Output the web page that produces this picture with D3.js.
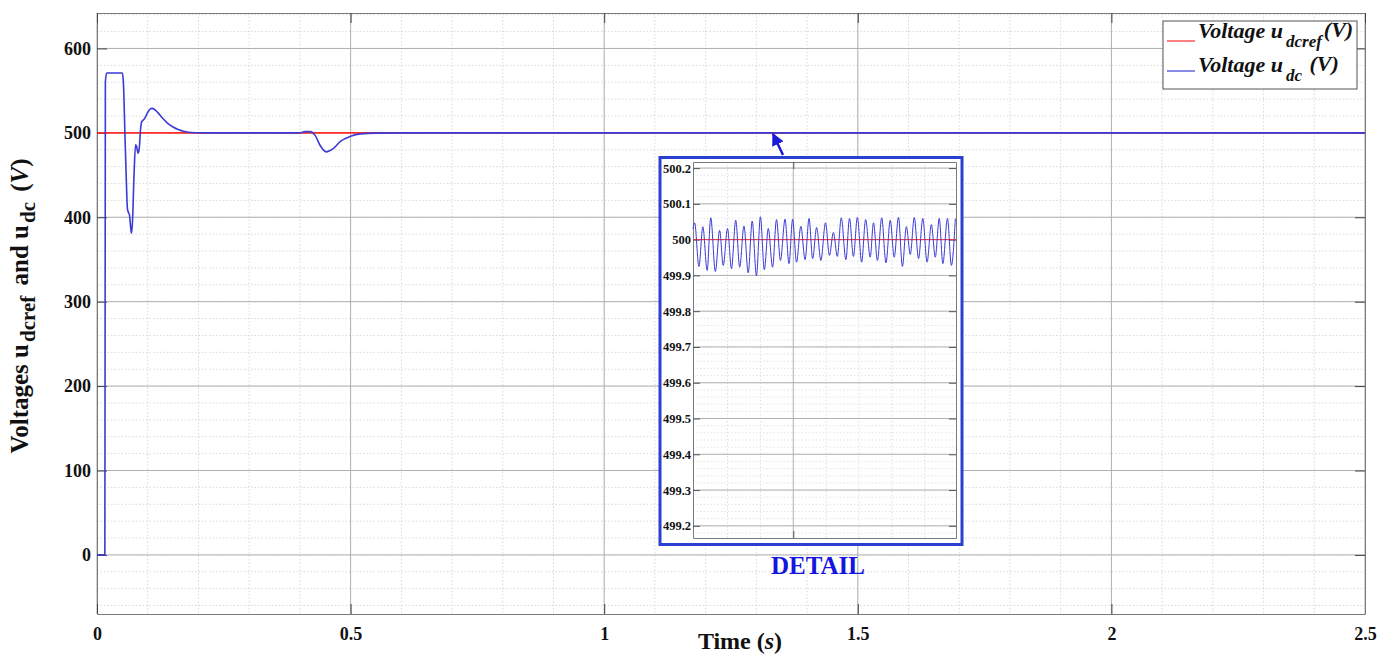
<!DOCTYPE html>
<html>
<head>
<meta charset="utf-8">
<script src="https://cdn.jsdelivr.net/npm/d3@7"></script>
<style>
  html, body { margin: 0; padding: 0; background: #fff; }
  svg { display: block; }
  text { font-family: "Liberation Serif", "Times New Roman", serif; }
</style>
</head>
<body>
<svg id="chart" width="1395" height="657"></svg>
<script>
// DC-link voltage response: reference and measured (V) over time (s)
const refTime = [0, 2.5];
const refVolt = [500, 500];

const udcTime = [0, 0.0155, 0.0165, 0.019, 0.050, 0.052, 0.055, 0.058, 0.060, 0.0625, 0.064, 0.066, 0.068,
  0.070, 0.073, 0.076, 0.078, 0.081, 0.083, 0.086, 0.088, 0.091, 0.094, 0.098, 0.103, 0.108, 0.113,
  0.120, 0.130, 0.140, 0.150, 0.160, 0.170, 0.180, 0.195, 0.22, 0.40, 0.41, 0.42, 0.43, 0.44, 0.452,
  0.465, 0.48, 0.50, 0.52, 0.55, 0.60, 2.5];
const udcVolt = [0, 0, 560, 571, 571, 560, 500, 440, 410, 405, 403, 390, 381,
  395, 450, 486, 484, 476, 480, 505, 513, 515, 517, 522, 527, 529, 528,
  524, 517, 511, 507, 504, 502, 500.8, 500.2, 500, 500, 501.5, 501.5, 497, 485, 477.5,
  481, 490, 496, 498.8, 499.7, 500, 500];

// Zoomed window of the steady state ripple (time in ms inside the window)
const detailTime = [-0.5, 0.0, 1.3, 2.5, 3.8, 4.9, 6.3, 7.6, 8.7, 10.0, 11.2, 12.5, 13.7, 15.0, 16.3, 17.5,
  18.8, 20.0, 21.2, 22.4, 23.7, 24.9, 26.1, 27.5, 28.7, 29.8, 31.0, 32.3, 33.6, 34.8, 35.9,
  37.1, 38.4, 39.8, 41.0, 42.2, 43.4, 44.6, 46.0, 47.1, 48.3, 49.5, 50.8, 52.0, 53.4, 54.4,
  55.6, 56.9, 58.2, 59.5, 60.7, 62.0, 63.2, 64.4, 65.6, 66.8, 68.1, 69.4, 70.7, 72.0, 73.2,
  74.4, 75.5, 76.9, 78.1, 79.3];
const detailVolt = [500.030, 500.047, 499.925, 500.036, 499.914, 500.061, 499.911, 500.026, 499.928, 500.031,
  499.919, 500.054, 499.923, 500.038, 499.907, 500.052, 499.899, 500.064, 499.916, 500.031, 499.923,
  500.056, 499.942, 500.057, 499.933, 500.057, 499.937, 500.037, 499.944, 500.059, 499.947,
  500.034, 499.942, 500.047, 499.956, 500.020, 499.953, 500.061, 499.944, 500.059, 499.953,
  500.062, 499.937, 500.056, 499.951, 500.047, 499.942, 500.061, 499.935, 500.054, 499.951,
  500.062, 499.925, 500.036, 499.959, 500.062, 499.947, 500.059, 499.937, 500.042, 499.951,
  500.059, 499.933, 500.059, 499.928, 500.059];

const xTicks = [0, 0.5, 1, 1.5, 2, 2.5];
const xTickLabels = ["0", "0.5", "1", "1.5", "2", "2.5"];
const yTicks = [0, 100, 200, 300, 400, 500, 600];
const detailYTicks = [499.2, 499.3, 499.4, 499.5, 499.6, 499.7, 499.8, 499.9, 500, 500.1, 500.2];
const detailYTickLabels = ["499.2", "499.3", "499.4", "499.5", "499.6", "499.7", "499.8", "499.9", "500", "500.1", "500.2"];

const RED = "#ff2a2a", BLUE = "#3a3ad6", FRAME = "#2b3fd0";
const SERIF = "'Liberation Serif', 'Times New Roman', serif";

const svg = d3.select("#chart");
const M = { left: 97, right: 1365, top: 13, bottom: 614 };

const x = d3.scaleLinear().domain([0, 2.5]).range([M.left, M.right]);
const y = d3.scaleLinear().domain([-70, 642]).range([M.bottom, M.top]);

// minor grid
const g = svg.append("g");
g.selectAll(".mx").data(d3.range(0, 2.5001, 0.1)).join("line")
  .attr("x1", d => x(d)).attr("x2", d => x(d)).attr("y1", M.top).attr("y2", M.bottom)
  .attr("stroke", "#d9d9d9").attr("stroke-width", 1).attr("stroke-dasharray", "1.5,2");
g.selectAll(".my").data(d3.range(-60, 641, 20)).join("line")
  .attr("x1", M.left).attr("x2", M.right).attr("y1", d => y(d)).attr("y2", d => y(d))
  .attr("stroke", "#d9d9d9").attr("stroke-width", 1).attr("stroke-dasharray", "1.5,2");
// major grid
g.selectAll(".gx").data(xTicks).join("line")
  .attr("x1", d => x(d)).attr("x2", d => x(d)).attr("y1", M.top).attr("y2", M.bottom)
  .attr("stroke", "#b0b0b0").attr("stroke-width", 1);
g.selectAll(".gy").data(yTicks).join("line")
  .attr("x1", M.left).attr("x2", M.right).attr("y1", d => y(d)).attr("y2", d => y(d))
  .attr("stroke", "#b0b0b0").attr("stroke-width", 1);

// axes with inward ticks
const axL = d3.axisLeft(y).tickValues(yTicks).tickSizeInner(-10).tickSizeOuter(0).tickPadding(6);
const axB = d3.axisBottom(x).tickValues(xTicks).tickFormat((d, i) => xTickLabels[i]).tickSizeInner(-10).tickSizeOuter(0).tickPadding(13);
const axR = d3.axisRight(y).tickValues(yTicks).tickSizeInner(-10).tickSizeOuter(0).tickFormat("");
const axT = d3.axisTop(x).tickValues(xTicks).tickSizeInner(-10).tickSizeOuter(0).tickFormat("");

function styleAxis(sel) {
  sel.attr("font-family", SERIF);
  sel.select(".domain").attr("stroke", "#7a7a7a");
  sel.selectAll(".tick line").attr("stroke", "#444");
  sel.selectAll(".tick text").attr("fill", "#111").attr("font-size", 18).attr("font-weight", "bold");
}
svg.append("g").attr("transform", `translate(${M.left},0)`).call(axL).call(styleAxis);
svg.append("g").attr("transform", `translate(0,${M.bottom})`).call(axB).call(styleAxis);
svg.append("g").attr("transform", `translate(${M.right},0)`).call(axR).call(styleAxis);
svg.append("g").attr("transform", `translate(0,${M.top})`).call(axT).call(styleAxis);

// series
const line = d3.line().x(d => x(d[0])).y(d => y(d[1]));
svg.append("path").datum(d3.zip(refTime, refVolt)).attr("d", line)
  .attr("fill", "none").attr("stroke", RED).attr("stroke-width", 1.6);
svg.append("path").datum(d3.zip(udcTime, udcVolt)).attr("d", line.curve(d3.curveMonotoneX))
  .attr("fill", "none").attr("stroke", BLUE).attr("stroke-width", 1.6).attr("stroke-linejoin", "round");

// axis titles
const xt = svg.append("text").attr("x", 740).attr("y", 649).attr("text-anchor", "middle")
  .attr("font-size", 24).attr("font-weight", "bold").attr("fill", "#111");
xt.append("tspan").text("Time (");
xt.append("tspan").attr("font-style", "italic").text("s");
xt.append("tspan").text(")");

const yt = svg.append("text").attr("transform", "translate(28,306) rotate(-90)").attr("text-anchor", "middle")
  .attr("font-size", 25).attr("font-weight", "bold").attr("fill", "#111");
yt.append("tspan").text("Voltages u");
yt.append("tspan").attr("font-size", 21).attr("dy", 7).attr("dx", 2).text("dcref");
yt.append("tspan").attr("dy", -7).attr("dx", 4).text(" and u");
yt.append("tspan").attr("font-size", 21).attr("dy", 7).attr("dx", 2).text("dc");
yt.append("tspan").attr("dy", -7).attr("dx", 4).text(" (");
yt.append("tspan").attr("font-style", "italic").text("V");
yt.append("tspan").text(")");

// legend
const lg = svg.append("g");
lg.append("rect").attr("x", 1163).attr("y", 21).attr("width", 194).attr("height", 68)
  .attr("fill", "#fff").attr("stroke", "#555").attr("stroke-width", 1);
const legendItems = [
  { color: RED, sub: "dcref", y: 41, base: 38 },
  { color: BLUE, sub: "dc", y: 71, base: 72 }
];
legendItems.forEach(it => {
  lg.append("line").attr("x1", 1167).attr("x2", 1195).attr("y1", it.y).attr("y2", it.y)
    .attr("stroke", it.color).attr("stroke-width", 1.2);
  const t = lg.append("text").attr("x", 1198).attr("y", it.base).attr("font-size", 22)
    .attr("font-weight", "bold").attr("font-style", "italic").attr("fill", "#111");
  t.append("tspan").text("Voltage u");
  t.append("tspan").attr("font-size", 17).attr("dy", 9).attr("dx", 3).text(it.sub);
  t.append("tspan").attr("dy", -10).attr("dx", 2).text(it.sub === "dc" ? " (V)" : "(V)");
});

// arrow pointing at the zoomed region
const defs = svg.append("defs");
defs.append("marker").attr("id", "arrowhead").attr("viewBox", "0 0 10 10").attr("refX", 9).attr("refY", 5)
  .attr("markerWidth", 5).attr("markerHeight", 5).attr("orient", "auto")
  .append("path").attr("d", "M0,0 L10,5 L0,10 Z").attr("fill", "#1a1ad8");
svg.append("line").attr("x1", 783).attr("y1", 155).attr("x2", 773).attr("y2", 134)
  .attr("stroke", "#1a1ad8").attr("stroke-width", 2.5).attr("marker-end", "url(#arrowhead)");

// detail inset
const D = { left: 693, right: 956, top: 162, bottom: 538 };
svg.append("rect").attr("x", 660).attr("y", 157.5).attr("width", 302).attr("height", 387)
  .attr("fill", "#fff").attr("stroke", FRAME).attr("stroke-width", 3);

const dx = d3.scaleLinear().domain([-0.5, 79.5]).range([D.left, D.right]);
const dy = d3.scaleLinear().domain([499.166, 500.217]).range([D.bottom, D.top]);

const dg = svg.append("g");
dg.selectAll(".dmx").data([10, 20, 40, 50, 60, 70]).join("line")
  .attr("x1", d => dx(d)).attr("x2", d => dx(d)).attr("y1", D.top).attr("y2", D.bottom)
  .attr("stroke", "#dedede").attr("stroke-width", 1).attr("stroke-dasharray", "1.5,2");
dg.selectAll(".dmy").data(d3.range(499.18, 500.21, 0.02)).join("line")
  .attr("x1", D.left).attr("x2", D.right).attr("y1", d => dy(d)).attr("y2", d => dy(d))
  .attr("stroke", "#e4e4e4").attr("stroke-width", 1).attr("stroke-dasharray", "1.5,2");
dg.selectAll(".dgy").data(detailYTicks).join("line")
  .attr("x1", D.left).attr("x2", D.right).attr("y1", d => dy(d)).attr("y2", d => dy(d))
  .attr("stroke", "#b0b0b0").attr("stroke-width", 1);
dg.append("line").attr("x1", dx(30)).attr("x2", dx(30)).attr("y1", D.top).attr("y2", D.bottom)
  .attr("stroke", "#b0b0b0").attr("stroke-width", 1);

const dAxL = d3.axisLeft(dy).tickValues(detailYTicks).tickFormat((d, i) => detailYTickLabels[i])
  .tickSizeInner(-7).tickSizeOuter(0).tickPadding(2);
const dAxR = d3.axisRight(dy).tickValues(detailYTicks).tickFormat("").tickSizeInner(-7).tickSizeOuter(0);
const dAxB = d3.axisBottom(dx).tickValues([30]).tickFormat("").tickSizeInner(-7).tickSizeOuter(0);
const dAxT = d3.axisTop(dx).tickValues([30]).tickFormat("").tickSizeInner(-7).tickSizeOuter(0);
function styleDetail(sel) {
  sel.attr("font-family", SERIF);
  sel.select(".domain").attr("stroke", "#7a7a7a");
  sel.selectAll(".tick line").attr("stroke", "#555");
  sel.selectAll(".tick text").attr("fill", "#111").attr("font-size", 12.5).attr("font-weight", "bold");
}
svg.append("g").attr("transform", `translate(${D.left},0)`).call(dAxL).call(styleDetail);
svg.append("g").attr("transform", `translate(${D.right},0)`).call(dAxR).call(styleDetail);
svg.append("g").attr("transform", `translate(0,${D.bottom})`).call(dAxB).call(styleDetail);
svg.append("g").attr("transform", `translate(0,${D.top})`).call(dAxT).call(styleDetail);

const dline = d3.line().x(d => dx(d[0])).y(d => dy(d[1]));
svg.append("path").datum([[-0.5, 500], [79.5, 500]]).attr("d", dline)
  .attr("fill", "none").attr("stroke", RED).attr("stroke-width", 1);
svg.append("path").datum(d3.zip(detailTime, detailVolt)).attr("d", dline.curve(d3.curveMonotoneX))
  .attr("fill", "none").attr("stroke", BLUE).attr("stroke-width", 1);

svg.append("text").attr("x", 818).attr("y", 574).attr("text-anchor", "middle")
  .attr("font-size", 25).attr("font-weight", "bold").attr("fill", "#1515e0").text("DETAIL");
</script>
</body>
</html>
